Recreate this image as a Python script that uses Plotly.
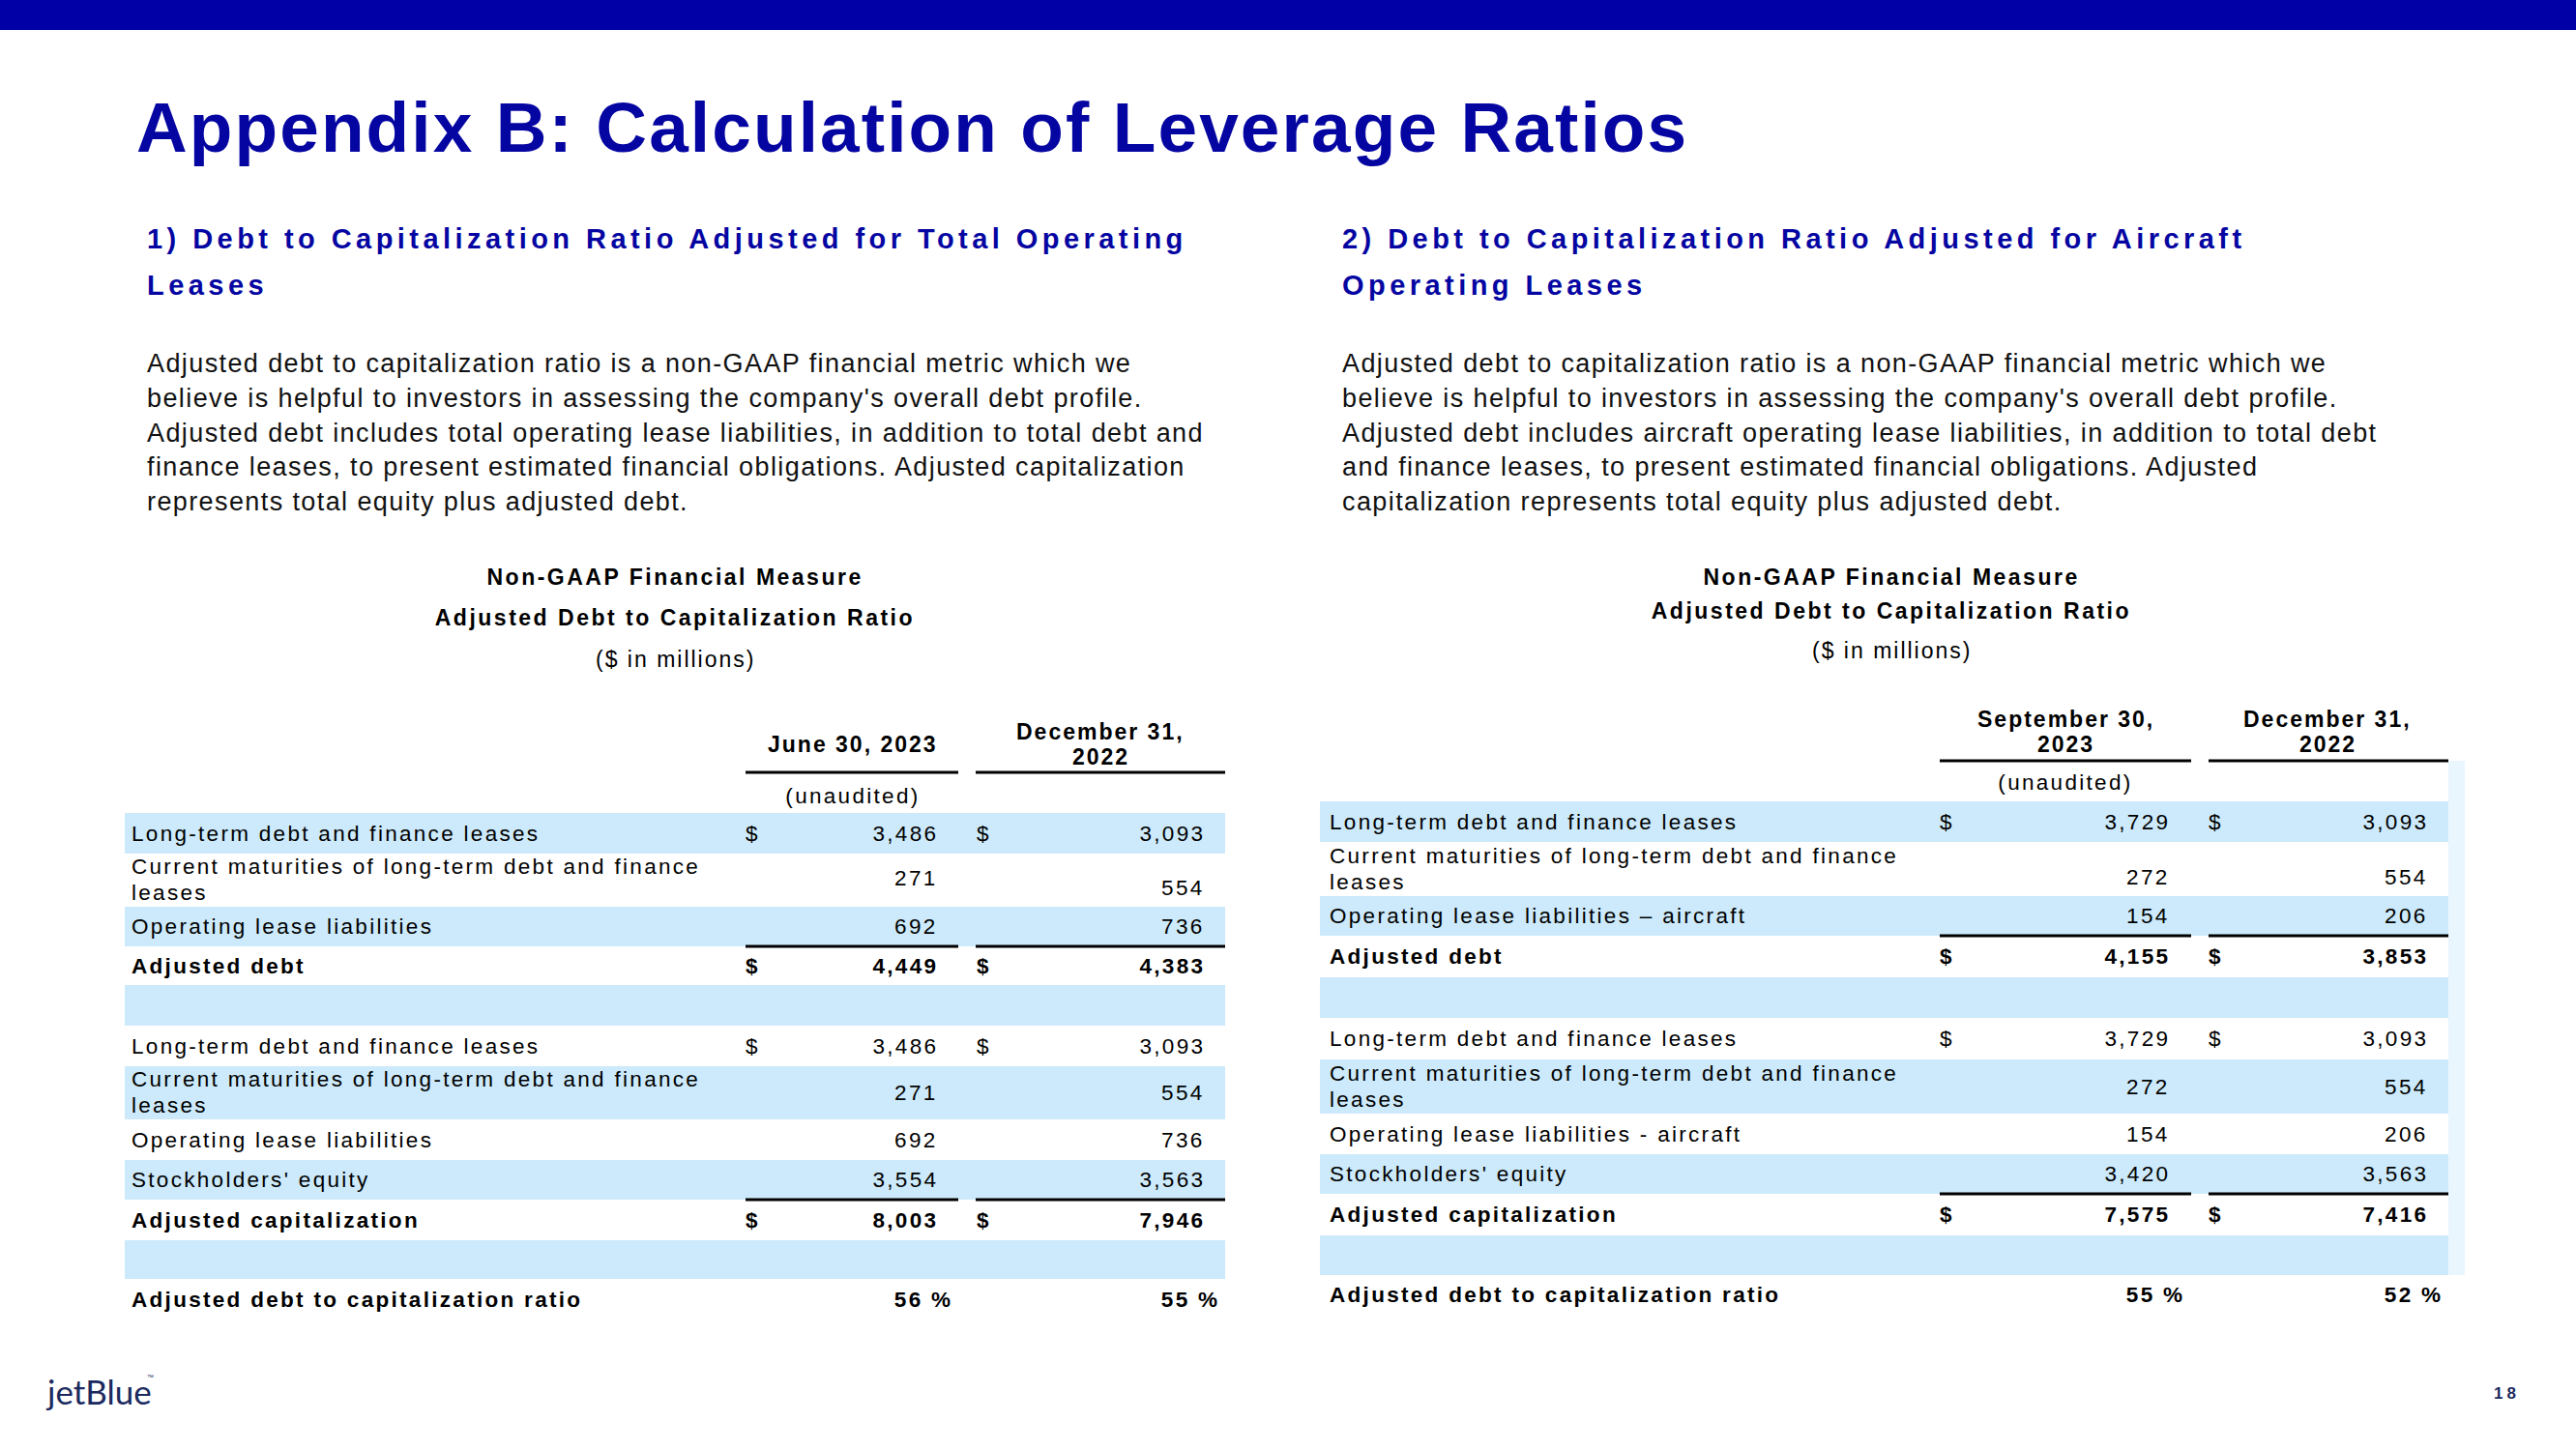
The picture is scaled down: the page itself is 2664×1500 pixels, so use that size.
import json
from collections import defaultdict
import plotly.graph_objects as go

# ---------------- data ----------------
title = "Appendix B: Calculation of Leverage Ratios"
sec1_heading = ["1) Debt to Capitalization Ratio Adjusted for Total Operating", "Leases"]
sec2_heading = ["2) Debt to Capitalization Ratio Adjusted for Aircraft", "Operating Leases"]
sec1_body = [
    "Adjusted debt to capitalization ratio is a non-GAAP financial metric which we",
    "believe is helpful to investors in assessing the company's overall debt profile.",
    "Adjusted debt includes total operating lease liabilities, in addition to total debt and",
    "finance leases, to present estimated financial obligations. Adjusted capitalization",
    "represents total equity plus adjusted debt.",
]
sec2_body = [
    "Adjusted debt to capitalization ratio is a non-GAAP financial metric which we",
    "believe is helpful to investors in assessing the company's overall debt profile.",
    "Adjusted debt includes aircraft operating lease liabilities, in addition to total debt",
    "and finance leases, to present estimated financial obligations. Adjusted",
    "capitalization represents total equity plus adjusted debt.",
]
table_titles = ["Non-GAAP Financial Measure", "Adjusted Debt to Capitalization Ratio", "($ in millions)"]

t1_headers = [["June 30, 2023"], ["December 31,", "2022"]]
t2_headers = [["September 30,", "2023"], ["December 31,", "2022"]]
unaudited = "(unaudited)"

t1_labels = [
    ["Long-term debt and finance leases"],
    ["Current maturities of long-term debt and finance", "leases"],
    ["Operating lease liabilities"],
    ["Adjusted debt"],
    [],
    ["Long-term debt and finance leases"],
    ["Current maturities of long-term debt and finance", "leases"],
    ["Operating lease liabilities"],
    ["Stockholders' equity"],
    ["Adjusted capitalization"],
    [],
    ["Adjusted debt to capitalization ratio"],
]
t1_jun_2023 = [3486, 271, 692, 4449, None, 3486, 271, 692, 3554, 8003, None, 56]
t1_dec_2022 = [3093, 554, 736, 4383, None, 3093, 554, 736, 3563, 7946, None, 55]

t2_labels = [
    ["Long-term debt and finance leases"],
    ["Current maturities of long-term debt and finance", "leases"],
    ["Operating lease liabilities \u2013 aircraft"],
    ["Adjusted debt"],
    [],
    ["Long-term debt and finance leases"],
    ["Current maturities of long-term debt and finance", "leases"],
    ["Operating lease liabilities - aircraft"],
    ["Stockholders' equity"],
    ["Adjusted capitalization"],
    [],
    ["Adjusted debt to capitalization ratio"],
]
t2_sep_2023 = [3729, 272, 154, 4155, None, 3729, 272, 154, 3420, 7575, None, 55]
t2_dec_2022 = [3093, 554, 206, 3853, None, 3093, 554, 206, 3563, 7416, None, 52]

bold_rows = [3, 9, 11]
dollar_rows = [0, 3, 5, 9]
percent_rows = [11]
total_rows = [3, 9]  # rows preceded by a rule

page_number = "18"
logo_text = "jetBlue"

# ---------------- style ----------------
FONT = "Liberation Sans, Arial, sans-serif"
NAVY = "#0505A2"
BAND = "#CCEAFB"
INK = "#000000"

ann = []
ls_list = []
shapes = []


def text(x, y, s, size, color=INK, bold=False, anchor="left", ls=0.0, family=FONT):
    if anchor == "right":
        x = x + ls
    elif anchor == "center":
        x = x + ls / 2.0
    ann.append(dict(
        x=x, y=y, xref="x", yref="y", text=s, showarrow=False,
        xanchor=anchor, yanchor="middle", align=anchor,
        font=dict(size=size, color=color, family=family, weight=700 if bold else 400),
    ))
    ls_list.append(ls)


def rect(x0, y0, x1, y1, color):
    shapes.append(dict(type="rect", xref="x", yref="y", x0=x0, y0=y0, x1=x1, y1=y1,
                       fillcolor=color, line=dict(width=0), layer="below"))


def rule(x0, x1, y, w=3):
    shapes.append(dict(type="line", xref="x", yref="y", x0=x0, x1=x1, y0=y, y1=y,
                       line=dict(color="#000000", width=w)))


# top bar
rect(0, 0, 2664, 31, "#0000A6")

# title
text(139, 131, title, 73, NAVY, True, ls=2.1)

# section headings
for sx, heading in ((150, sec1_heading), (1386, sec2_heading)):
    for i, line in enumerate(heading):
        text(sx, 247 + 48 * i, line, 29, NAVY, True, ls=4.45)

# body paragraphs
for sx, body in ((150, sec1_body), (1386, sec2_body)):
    for i, line in enumerate(body):
        text(sx, 376 + 35.8 * i, line, 27, "#111111", False, ls=1.4)

# ---------------- tables ----------------
TS = 22.5
TLS = 2.3


def draw_table(geo, headers, labels, col_a, col_b):
    edges = geo["edges"]
    # titles
    for i, t in enumerate(table_titles):
        text(geo["title_x"], geo["title_y"][i], t, 23, INK, i < 2, "center", ls=2.5 if i < 2 else 2.0)
    # header labels
    for c, hdr in enumerate(headers):
        n = len(hdr)
        for k, line in enumerate(hdr):
            y = geo["hdr_y"] + (k - (n - 1) / 2.0) * 26
            text(geo["hdr_cx"][c], y, line, 23, INK, True, "center", ls=2.0)
        rule(geo["ul"][c][0], geo["ul"][c][1], geo["hdr_rule"])
    text(geo["hdr_cx"][0], geo["unaud_y"], unaudited, TS, INK, False, "center", ls=TLS)
    # bands
    if geo.get("strip"):
        rect(geo["band_x"][1], geo["hdr_rule"], geo["strip"], edges[-2], "#EAF6FE")
    for r in range(len(labels)):
        if r % 2 == 0:
            rect(geo["band_x"][0], edges[r], geo["band_x"][1], edges[r + 1], BAND)
    # rows
    for r, lab in enumerate(labels):
        cy = (edges[r] + edges[r + 1]) / 2.0
        bold = r in bold_rows
        if len(lab) == 1:
            text(geo["label_x"], cy, lab[0], TS, INK, bold, ls=TLS)
        elif len(lab) == 2:
            text(geo["label_x"], cy - 14, lab[0], TS, INK, bold, ls=TLS)
            text(geo["label_x"], cy + 13, lab[1], TS, INK, bold, ls=TLS)
        for c, col in enumerate((col_a, col_b)):
            v = col[r]
            if v is None:
                continue
            ny = cy + geo["nudge"].get((r, c), 0)
            if r in percent_rows:
                text(geo["num_r"][c] + 15, ny, f"{v} %", TS, INK, bold, "right", ls=TLS)
            else:
                text(geo["num_r"][c], ny, f"{v:,}", TS, INK, bold, "right", ls=TLS)
            if r in dollar_rows:
                text(geo["dollar_x"][c], ny, "$", TS, INK, bold, "center")
    for r in total_rows:
        for c in range(2):
            rule(geo["ul"][c][0], geo["ul"][c][1], edges[r])


geo1 = dict(
    edges=[841, 883, 938, 979, 1019, 1061, 1103, 1158, 1200, 1241, 1283, 1323, 1365],
    title_x=697, title_y=[597, 639, 682],
    hdr_cx=[881, 1137], hdr_y=770, hdr_rule=799, unaud_y=823,
    ul=[(771, 991), (1009, 1267)],
    band_x=(129, 1267), label_x=134,
    num_r=[970, 1246], dollar_x=[777, 1016],
    nudge={(1, 0): -2, (1, 1): 8},
)
geo2 = dict(
    edges=[829, 871, 927, 968, 1011, 1053, 1096, 1152, 1194, 1235, 1278, 1319, 1360],
    title_x=1955, title_y=[597, 632, 673],
    hdr_cx=[2135, 2406], hdr_y=757, hdr_rule=787, unaud_y=809,
    ul=[(2006, 2266), (2284, 2532)],
    band_x=(1365, 2532), label_x=1373,
    num_r=[2244, 2511], dollar_x=[2012, 2290],
    nudge={(1, 0): 8, (1, 1): 8},
    strip=2549,
)
draw_table(geo1, t1_headers, t1_labels, t1_jun_2023, t1_dec_2022)
draw_table(geo2, t2_headers, t2_labels, t2_sep_2023, t2_dec_2022)

# footer
text(45, 1439, logo_text, 35, "#1B2A5E", False, ls=0, family="Lato, Liberation Sans, sans-serif")
text(150, 1424, "\u2122", 7, "#1B2A5E", False)
text(2590, 1441, page_number, 17, "#1B2A5E", True, "center", ls=4)

fig = go.Figure()
fig.add_trace(go.Scatter(x=[0, 2664], y=[0, 1500], mode="markers",
                         marker=dict(opacity=0), hoverinfo="skip", showlegend=False))
fig.update_layout(
    width=2664, height=1500,
    margin=dict(l=0, r=0, t=0, b=0),
    paper_bgcolor="white", plot_bgcolor="white",
    xaxis=dict(range=[0, 2664], visible=False, fixedrange=True),
    yaxis=dict(range=[1500, 0], visible=False, fixedrange=True),
    annotations=ann, shapes=shapes, showlegend=False,
)

groups = defaultdict(list)
for i, l in enumerate(ls_list):
    if l:
        groups[l].append(i)
css = "html,body{margin:0;padding:0;overflow:hidden;}" + "".join(
    ",".join(f'g.annotation[data-index="{i}"] text' for i in idxs) + "{letter-spacing:%gpx}" % l
    for l, idxs in groups.items()
)
post = ("var st=document.createElement('style');st.textContent=%s;document.head.appendChild(st);"
        "document.body.style.margin='0';" % json.dumps(css))
fig.write_html("out.html", post_script=post, config={"displayModeBar": False})
